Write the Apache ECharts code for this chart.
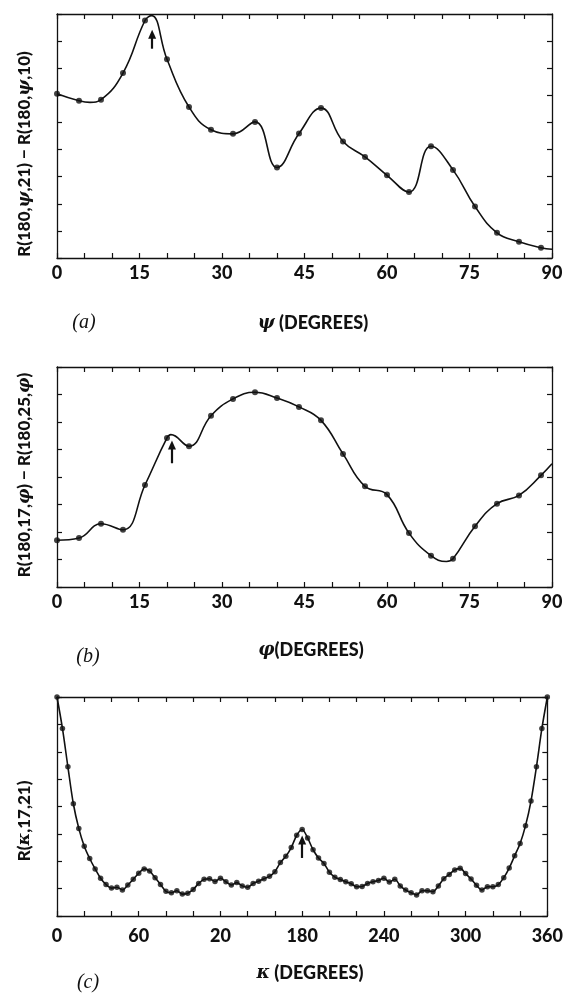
<!DOCTYPE html>
<html>
<head>
<meta charset="utf-8">
<script src="https://cdn.jsdelivr.net/npm/echarts@6/dist/echarts.min.js"></script>
<style>html,body{margin:0;padding:0;background:#fff;}#c{width:566px;height:994px;}</style>
</head>
<body>
<div id="c"></div>
<script>
// ---------- DATA ----------
// Panel (a): psi in degrees (dots every 4 deg), values in arbitrary units (0..9 frame)
const aDeg = [0,4,8,12,16,20,24,28,32,36,40,44,48,52,56,60,64,68,72,76,80,84,88];
const aVal = [6.06,5.80,5.84,6.82,8.76,7.33,5.57,4.73,4.58,5.02,3.34,4.59,5.53,4.30,3.73,3.05,2.43,4.12,3.25,1.90,0.93,0.60,0.38];
// extra curve points (peak, dip, end)
const aCurveExtraDeg = [6, 17.2, 90];
const aCurveExtraVal = [5.74, 8.94, 0.32];

// Panel (b): phi in degrees, values (0..8 frame)
const bDeg = [0,4,8,12,16,20,24,28,32,36,40,44,48,52,56,60,64,68,72,76,80,84,88];
const bVal = [1.70,1.78,2.30,2.08,3.71,5.42,5.12,6.23,6.84,7.08,6.87,6.55,6.06,4.84,3.66,3.36,1.96,1.14,1.03,2.21,3.03,3.33,4.06];
const bCurveExtraDeg = [20.7, 70.8, 90];
const bCurveExtraVal = [5.54, 0.93, 4.48];

// Panel (c): kappa in degrees (dots every 4 deg), values (0..8 frame)
const cDeg = Array.from({length: 91}, (_, i) => i * 4);
const cVal = [8.00,6.85,5.45,4.10,3.20,2.55,2.10,1.72,1.38,1.15,
              1.02,1.05,0.95,1.13,1.34,1.56,1.72,1.64,1.40,1.15,
              0.90,0.85,0.92,0.80,0.83,0.97,1.19,1.34,1.36,1.26,
              1.38,1.25,1.13,1.22,1.10,1.05,1.19,1.27,1.36,1.45,
              1.62,1.95,2.18,2.50,2.95,3.16,2.85,2.42,2.12,1.92,
              1.60,1.42,1.33,1.25,1.18,1.07,1.08,1.19,1.25,1.30,
              1.38,1.24,1.34,1.10,0.95,0.85,0.77,0.92,0.92,0.89,
              1.10,1.36,1.52,1.68,1.74,1.55,1.35,1.12,0.95,1.07,
              1.07,1.15,1.40,1.75,2.20,2.65,3.30,4.20,5.45,6.85,8.00];

// tick labels
const abTickLabels = ['0','15','30','45','60','75','90'];
const cTickLabels = ['0','60','20','180','240','300','360'];

// arrows (degree, tail value, head value)
const arrowA = [17.3, 7.72, 8.25];
const arrowB = [20.9, 4.50, 5.16];
const arrowC = [180, 2.12, 2.78];

// ---------- CHART ----------
const INK = '#111';
const FONT = 'Lato, "Open Sans", sans-serif';

function pairs(xs, ys) { return xs.map((x, i) => [x, ys[i]]); }
function curve(xs, ys, ex, ey) {
  return pairs(xs, ys).concat(pairs(ex, ey)).sort((p, q) => p[0] - q[0]);
}

function xAx(grid, pos, max, interval, labels, margin) {
  return {
    type: 'value', gridIndex: grid, position: pos, min: 0, max: max, interval: interval,
    axisLine: { show: true, onZero: false, lineStyle: { color: INK, width: 1.3 } },
    axisTick: { show: true, inside: true, length: 5, lineStyle: { color: INK, width: 1.2 } },
    minorTick: { show: true, splitNumber: 3, length: 5, lineStyle: { color: INK, width: 1.2 } },
    splitLine: { show: false }, minorSplitLine: { show: false },
    axisLabel: pos === 'bottom' ? {
      show: true, margin: margin, color: INK, fontFamily: FONT, fontWeight: 900, fontSize: 18,
      formatter: v => labels[Math.round(v / interval)]
    } : { show: false }
  };
}
function yAx(grid, pos, max) {
  return {
    type: 'value', gridIndex: grid, position: pos, min: 0, max: max, interval: 1,
    axisLine: { show: true, onZero: false, lineStyle: { color: INK, width: 1.3 } },
    axisTick: { show: true, inside: true, length: 5, lineStyle: { color: INK, width: 1.2 } },
    splitLine: { show: false },
    axisLabel: { show: false }
  };
}
function arrowMark(a) {
  return {
    silent: true, symbol: ['none', 'triangle'], symbolSize: [8, 9],
    lineStyle: { color: INK, width: 2.2, type: 'solid' },
    label: { show: false }, emphasis: { disabled: true },
    data: [[{ coord: [a[0], a[1]] }, { coord: [a[0], a[2]] }]]
  };
}
function panelSeries(idx, curveData, dots, smooth, dotSize, arrow) {
  return [
    { type: 'line', xAxisIndex: 2 * idx, yAxisIndex: 2 * idx, data: curveData, smooth: smooth,
      showSymbol: false, symbol: 'none', lineStyle: { color: INK, width: 1.6 }, silent: true,
      markLine: arrowMark(arrow) },
    { type: 'scatter', xAxisIndex: 2 * idx, yAxisIndex: 2 * idx, data: dots, symbol: 'circle',
      symbolSize: dotSize, itemStyle: { color: INK }, silent: true }
  ];
}

const italicG = { fontFamily: '"DejaVu Serif", serif', fontStyle: 'italic', fontWeight: 'bold', fontSize: 17, fill: INK };
function yTitle(x, y, parts) {
  return {
    type: 'text', x: x, y: y, rotation: Math.PI / 2, silent: true,
    style: {
      text: parts, fill: INK, fontFamily: FONT, fontWeight: 900, fontSize: 17,
      align: 'center', verticalAlign: 'middle',
      rich: { g: italicG }
    }
  };
}
function label(x, y, text, style) {
  return { type: 'text', x: x, y: y, silent: true,
    style: Object.assign({ text: text, fill: INK, align: 'center', verticalAlign: 'middle',
      rich: { g: Object.assign({}, italicG, { fontSize: 18 }) } }, style) };
}
const panelTag = { fontFamily: '"Liberation Serif", serif', fontStyle: 'italic', fontSize: 20 };
const xTitleStyle = { fontFamily: FONT, fontWeight: 900, fontSize: 18 };

const option = {
  animation: false,
  backgroundColor: '#fff',
  grid: [
    { left: 57, right: 14, top: 14, height: 244 },
    { left: 57, right: 14, top: 367, height: 220 },
    { left: 57, right: 14, top: 697, height: 219 }
  ],
  xAxis: [
    xAx(0, 'bottom', 90, 15, abTickLabels, 6), xAx(0, 'top', 90, 15, abTickLabels, 6),
    xAx(1, 'bottom', 90, 15, abTickLabels, 6), xAx(1, 'top', 90, 15, abTickLabels, 6),
    xAx(2, 'bottom', 360, 60, cTickLabels, 11), xAx(2, 'top', 360, 60, cTickLabels, 11)
  ],
  yAxis: [
    yAx(0, 'left', 9), yAx(0, 'right', 9),
    yAx(1, 'left', 8), yAx(1, 'right', 8),
    yAx(2, 'left', 8), yAx(2, 'right', 8)
  ],
  series: [].concat(
    panelSeries(0, curve(aDeg, aVal, aCurveExtraDeg, aCurveExtraVal), pairs(aDeg, aVal), 0.45, 6, arrowA),
    panelSeries(1, curve(bDeg, bVal, bCurveExtraDeg, bCurveExtraVal), pairs(bDeg, bVal), 0.45, 6, arrowB),
    panelSeries(2, pairs(cDeg, cVal), pairs(cDeg, cVal), 0.3, 5.5, arrowC)
  ),
  graphic: [
    yTitle(25, 154, 'R(180,{g|ψ},21) − R(180,{g|ψ},10)'),
    yTitle(25, 475, 'R(180,17,{g|φ}) − R(180,25,{g|φ})'),
    yTitle(25, 821, 'R({g|κ},17,21)'),
    label(84, 323, '(a)', panelTag),
    label(88, 657, '(b)', panelTag),
    label(88, 983, '(c)', panelTag),
    label(313, 323, '{g|ψ} (DEGREES)', xTitleStyle),
    label(311, 650, '{g|φ}(DEGREES)', xTitleStyle),
    label(310, 973, '{g|κ} (DEGREES)', xTitleStyle)
  ]
};

const chart = echarts.init(document.getElementById('c'), null, { renderer: 'canvas' });
chart.setOption(option);
</script>
</body>
</html>
